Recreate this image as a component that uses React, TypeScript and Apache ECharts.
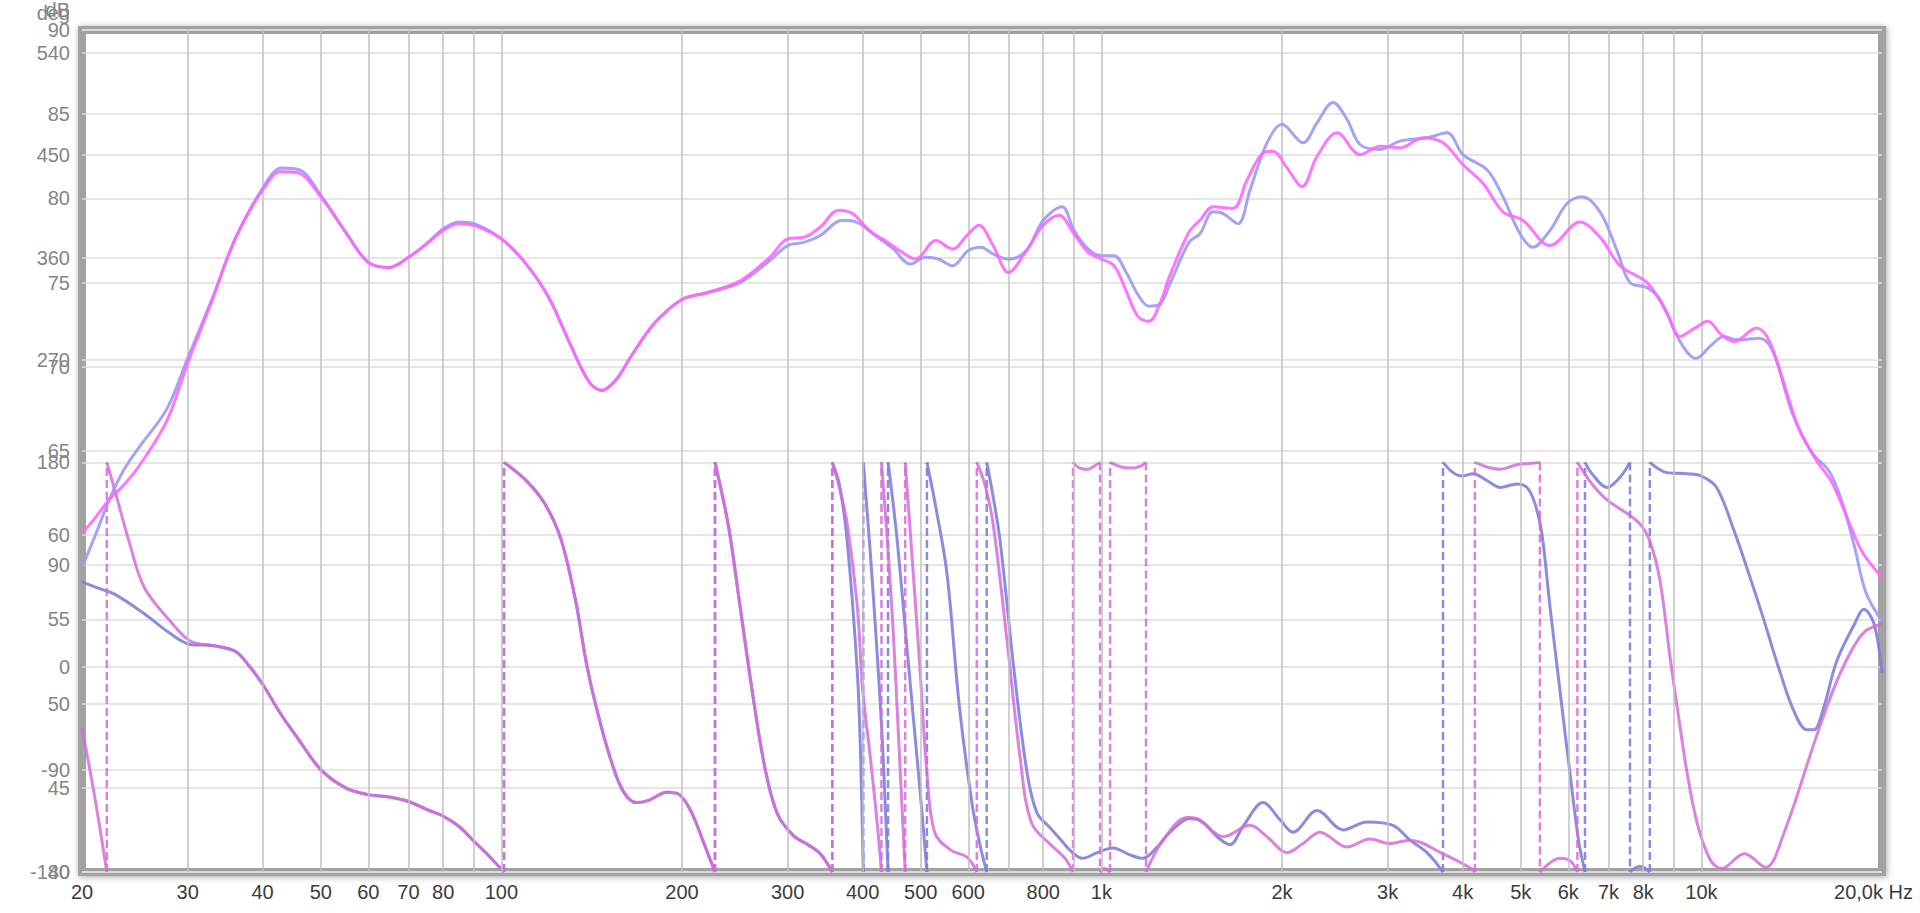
import React, { useEffect, useRef } from "react";
import * as echarts from "echarts";

type Pt = [number, number];

// ---------- axes ----------
const X_LABEL_VALUES = [20, 30, 40, 50, 60, 70, 80, 100, 200, 300, 400, 500, 600, 800, 1000, 2000, 3000, 4000, 5000, 6000, 7000, 8000, 10000, 20000];
const X_GRID_VALUES = [30, 40, 50, 60, 70, 80, 90, 100, 200, 300, 400, 500, 600, 700, 800, 900, 1000, 2000, 3000, 4000, 5000, 6000, 7000, 8000, 9000, 10000];
const DB_MIN = 40;
const DB_MAX = 90;
const DB_STEP = 5;
const DEG_MIN = -180;
const DEG_MAX = 560;
const DEG_STEP = 90;

// ---------- SPL (dB) ----------
const BLUE_SPL: Pt[] = [
  [20, 58.1], [21, 59.9], [22.2, 62.1], [23.5, 63.9], [25, 65.3], [27.7, 67.5], [30, 70.5], [33, 74.1], [36, 77.6],
  [40, 80.6], [43, 81.8], [46, 81.7], [50, 80.2], [55, 78.0], [60, 76.2], [65, 75.9], [70, 76.5], [75, 77.3],
  [80, 78.2], [85, 78.6], [90, 78.5], [100, 77.6], [110, 76.1], [120, 74.1], [130, 71.4], [140, 69.1], [147, 68.6],
  [155, 69.2], [165, 70.7], [180, 72.6], [200, 74.0], [220, 74.4], [250, 75.0], [280, 76.3], [300, 77.2], [320, 77.4],
  [340, 77.8], [370, 78.7], [390, 78.6], [420, 77.8], [450, 77.0], [480, 76.1], [510, 76.5], [535, 76.4], [565, 76.0],
  [600, 76.9], [630, 77.1], [660, 76.7], [700, 76.4], [750, 76.9], [800, 78.7], [860, 79.5], [900, 78.1], [950, 77.0],
  [1000, 76.6], [1050, 76.6], [1100, 75.6], [1150, 74.3], [1200, 73.6], [1250, 73.7], [1300, 74.9], [1400, 77.4],
  [1460, 77.9], [1535, 79.2], [1595, 79.1], [1689, 78.5], [1769, 80.5], [1888, 83.3], [2000, 84.4], [2168, 83.3],
  [2288, 84.5], [2433, 85.7], [2566, 84.7], [2698, 83.2], [2913, 82.9], [3146, 83.4], [3490, 83.6], [3768, 83.9],
  [4005, 82.6], [4393, 81.7], [4670, 80.1], [4985, 77.9], [5238, 77.1], [5594, 78.1], [5971, 79.7], [6325, 80.1],
  [6777, 79.2], [7234, 76.9], [7604, 75.0], [8117, 74.7], [8532, 74.0], [9212, 71.5], [9790, 70.5], [10400, 71.3],
  [10900, 71.8], [11470, 71.6], [12500, 71.7], [13160, 70.9], [14190, 67.2], [15290, 64.9], [16330, 63.8],
  [17150, 62.0], [18000, 59.3], [18800, 56.6], [20000, 54.9],
];

const MAGENTA_SPL: Pt[] = [
  [20, 60.1], [21, 61.0], [22.2, 62.1], [23.5, 63.0], [25, 64.2], [27.7, 66.8], [30, 70.2], [33, 74.0], [36, 77.6],
  [40, 80.5], [43, 81.6], [46, 81.5], [50, 80.1], [55, 78.0], [60, 76.2], [65, 75.9], [70, 76.5], [75, 77.3],
  [80, 78.1], [85, 78.5], [90, 78.4], [100, 77.6], [110, 76.1], [120, 74.1], [130, 71.4], [140, 69.1], [147, 68.6],
  [155, 69.2], [165, 70.7], [180, 72.6], [200, 74.0], [220, 74.4], [250, 75.1], [280, 76.5], [300, 77.6], [320, 77.7],
  [340, 78.3], [365, 79.3], [385, 79.1], [410, 78.1], [440, 77.4], [470, 76.7], [490, 76.4], [530, 77.5], [565, 77.0],
  [600, 77.9], [625, 78.4], [660, 77.2], [700, 75.6], [750, 76.9], [800, 78.4], [850, 79.0], [900, 77.9], [950, 76.8],
  [1000, 76.4], [1050, 76.0], [1100, 74.5], [1150, 73.0], [1200, 72.7], [1250, 73.7], [1300, 75.4], [1400, 78.0],
  [1460, 78.7], [1535, 79.5], [1657, 79.4], [1749, 81.1], [1860, 82.7], [1932, 82.8], [2039, 81.8], [2160, 80.7],
  [2288, 82.5], [2471, 83.9], [2698, 82.6], [2913, 83.1], [3146, 83.0], [3436, 83.6], [3710, 83.3], [4005, 82.0],
  [4325, 80.9], [4670, 79.2], [5040, 78.7], [5594, 77.2], [6276, 78.6], [6777, 77.7], [7318, 76.0], [8117, 75.0],
  [8764, 73.2], [9212, 71.8], [9750, 72.3], [10250, 72.7], [10800, 71.9], [11340, 71.5], [12350, 72.3], [12990, 71.5],
  [13840, 68.6], [14550, 66.3], [15510, 64.5], [16520, 63.1], [17610, 60.8], [18540, 59.0], [20000, 57.5],
];

// ---------- phase (deg), wrapped; each segment runs between two wraps ----------
const PHASE_COMMON_33_101: Pt[] = [
  [33, 19], [36, 14], [38, 1], [40, -15], [43, -42], [46, -64], [50, -90], [55, -106], [60, -112], [65, -114],
  [70, -118], [75, -125], [80, -131], [85, -140], [90, -153], [95, -165], [101, -180],
];
const PHASE_COMMON_101_227: Pt[] = [
  [101, 180], [110, 164], [118, 144], [125.6, 113], [133, 58], [139, 0], [146, -48], [153, -85], [160, -110],
  [168, -119], [176, -117], [189, -110], [198, -112], [207.6, -128], [217.6, -155], [227, -180],
];
const PHASE_COMMON_227_356: Pt[] = [
  [227, 180], [239, 124], [250.6, 49], [262.7, -26], [275.3, -90], [288.5, -129], [306.7, -148], [324.5, -156],
  [340, -164], [356, -180],
];

const BLUE_PHASE_SEGMENTS: Pt[][] = [
  [[20, 75], [21.4, 69], [22.7, 64], [25.4, 47], [28, 30], [30.3, 20], ...PHASE_COMMON_33_101],
  PHASE_COMMON_101_227,
  PHASE_COMMON_227_356,
  [[356, 180], [366, 160], [377, 111], [392, -5], [397, -80], [401, -180]],
  [[401, 180], [412, 100], [422, 20], [431, -60], [437, -130], [441, -180]],
  [[441, 180], [455, 120], [470, 40], [485, -40], [499, -110], [512, -180]],
  [[512, 180], [530, 140], [553, 82], [580, -35], [610, -123], [630, -160], [644, -180]],
  [[644, 180], [660, 150], [678, 111], [716, -5], [752, -93], [781, -128], [821, -141], [860, -153], [887, -161],
   [930, -168], [984, -163], [1046, -159], [1116, -165], [1173, -168], [1239, -158], [1302, -145], [1405, -133],
   [1473, -136], [1559, -149], [1638, -156], [1722, -140], [1860, -119], [1985, -134], [2086, -145], [2288, -126],
   [2528, -143], [2771, -136], [3062, -139], [3269, -152], [3490, -163], [3710, -180]],
  [[3710, 180], [3855, 171], [3990, 168], [4162, 170], [4393, 164], [4617, 158], [4929, 161], [5121, 158],
   [5279, 144], [5420, 118], [5594, 53], [5810, -20], [6039, -93], [6240, -152], [6398, -180]],
  [[6398, 180], [6572, 170], [6963, 158], [7318, 167], [7604, 180]],
  [[7604, -180], [7897, -175], [8205, -180]],
  [[8205, 180], [8764, 171], [9467, 170], [10000, 168], [10600, 158], [11300, 122], [12000, 82], [12700, 42],
   [13500, -3], [14300, -40], [15000, -55], [15400, -55], [16000, -35], [16800, 5], [18000, 38], [18650, 51],
   [19400, 38], [20000, -5]],
];

const MAGENTA_PHASE_SEGMENTS: Pt[][] = [
  [[20, -53], [21, -114], [22, -180]],
  [[22, 180], [22.7, 155], [24, 109], [25.4, 70], [28, 41], [30.3, 23], ...PHASE_COMMON_33_101],
  PHASE_COMMON_101_227,
  PHASE_COMMON_227_356,
  [[356, 180], [365, 160], [377, 126], [392, 53], [400, -20], [412, -79], [423, -137], [430, -180]],
  [[430, 180], [440, 110], [450, 30], [458, -50], [465, -120], [471, -180]],
  [[471, 180], [485, 88], [499, -5], [512, -93], [528, -146], [562, -161], [597, -167], [620, -180]],
  [[620, 180], [640, 160], [660, 126], [696, 24], [732, -79], [765, -137], [831, -158], [870, -168], [897, -180]],
  [[897, 180], [920, 175], [950, 174], [975, 177], [995, 180]],
  [[995, -180], [1012, -177], [1034, -180]],
  [[1034, 180], [1080, 176], [1130, 175], [1165, 177], [1187, 180]],
  [[1187, -180], [1267, -152], [1389, -132], [1443, -133], [1598, -149], [1769, -139], [1888, -149], [2039, -163],
   [2168, -155], [2313, -145], [2566, -158], [2803, -151], [3024, -155], [3269, -152], [3710, -164], [4109, -176],
   [4193, -180]],
  [[4193, 180], [4393, 176], [4617, 174], [4929, 178], [5180, 179], [5381, 180]],
  [[5381, -180], [5594, -172], [5810, -168], [6039, -170], [6214, -180]],
  [[6214, 180], [6572, 161], [6963, 147], [7524, 135], [7897, 126], [8205, 111], [8532, 76], [8866, 9],
   [9113, -35], [9467, -93], [9840, -137], [10340, -169], [10800, -177], [11800, -164], [12800, -176],
   [13700, -147], [15500, -63], [16500, -23], [17600, 10], [18700, 31], [20000, 38]],
];

// ---------- colours ----------
const BLUE_SPL_COLOR = "#9a9af2";
const MAGENTA_SPL_COLOR = "#ff66ff";
const BLUE_PHASE_COLOR = "#8080d8";
const MAGENTA_PHASE_COLOR = "#d46cd8";
const FONT = "'Liberation Sans', Arial, sans-serif";

function solidData(segs: Pt[][]) {
  const out: any[] = [];
  segs.forEach((s, i) => {
    if (i > 0) out.push([s[0][0], "-"]);
    s.forEach((p) => out.push(p));
  });
  return out;
}

function wrapData(segs: Pt[][]) {
  const out: any[] = [];
  for (let i = 1; i < segs.length; i++) {
    const a = segs[i - 1][segs[i - 1].length - 1];
    const b = segs[i][0];
    out.push([a[0], a[1]], [b[0], b[1]], [b[0], "-"]);
  }
  return out;
}

function fmtHz(v: number) {
  const r = Math.round(v);
  if (r === 20000) return "{last|20,0k Hz}";
  if (r >= 1000) return `${r / 1000}k`;
  return `${r}`;
}

export default function App() {
  const ref = useRef<HTMLDivElement>(null);

  useEffect(() => {
    const chart = echarts.init(ref.current!, undefined, { renderer: "svg" });
    const yLabel = { color: "#858585", fontSize: 20, margin: 12, fontFamily: FONT };
    const ySplit = { show: true, lineStyle: { color: "#dcdcdc", width: 1.5 } };
    const nameStyle = {
      color: "#858585", fontSize: 20, fontFamily: FONT, align: "right" as const,
      verticalAlign: "middle" as const, padding: [0, 12, 0, 0],
    };
    const option: any = {
      animation: false,
      backgroundColor: "#ffffff",
      grid: {
        left: 82, right: 38, top: 30, bottom: 41, show: true, backgroundColor: "#ffffff",
        borderColor: "#a2a2a2", borderWidth: 8, shadowColor: "rgba(0,0,0,0.35)", shadowBlur: 6,
        shadowOffsetX: 1, shadowOffsetY: 1,
      },
      xAxis: {
        type: "log", logBase: 10, min: 20, max: 20000,
        axisLine: { show: false },
        axisTick: { show: false, customValues: X_LABEL_VALUES },
        splitLine: { show: false },
        axisLabel: {
          customValues: X_LABEL_VALUES, formatter: fmtHz, color: "#3c3c3c", fontSize: 20, margin: 10,
          fontFamily: FONT, showMinLabel: true, showMaxLabel: true, hideOverlap: false,
          rich: { last: { color: "#3c3c3c", fontSize: 20, fontFamily: FONT, padding: [0, 17, 0, 0] } },
        },
      },
      yAxis: [
        {
          type: "value", min: DB_MIN, max: DB_MAX, interval: DB_STEP, position: "left",
          name: "dB", nameLocation: "end", nameGap: 17, nameTextStyle: nameStyle,
          axisLine: { show: false }, axisTick: { show: false }, axisLabel: yLabel, splitLine: ySplit,
        },
        {
          type: "value", min: DEG_MIN, max: DEG_MAX, interval: DEG_STEP, position: "left", offset: 0,
          name: "deg", nameLocation: "end", nameGap: 17, nameTextStyle: nameStyle,
          axisLine: { show: false }, axisTick: { show: false },
          axisLabel: { ...yLabel, showMaxLabel: false }, splitLine: ySplit,
        },
      ],
      series: [
        {
          type: "line", name: "grid", xAxisIndex: 0, yAxisIndex: 0, data: [], silent: true, z: 1,
          markLine: {
            silent: true, symbol: ["none", "none"], label: { show: false }, animation: false,
            lineStyle: { color: "#c0c0c0", width: 1.5, type: "solid" },
            data: X_GRID_VALUES.map((v) => ({ xAxis: v })),
          },
        },
        {
          type: "line", name: "Blue phase", yAxisIndex: 1, data: solidData(BLUE_PHASE_SEGMENTS), smooth: 0.35,
          showSymbol: false, connectNulls: false, z: 3,
          lineStyle: { color: BLUE_PHASE_COLOR, width: 3, opacity: 0.9 },
        },
        {
          type: "line", name: "Blue phase wraps", yAxisIndex: 1, data: wrapData(BLUE_PHASE_SEGMENTS),
          showSymbol: false, connectNulls: false, z: 3,
          lineStyle: { color: BLUE_PHASE_COLOR, width: 2.5, type: [8, 4], opacity: 0.9 },
        },
        {
          type: "line", name: "Magenta phase", yAxisIndex: 1, data: solidData(MAGENTA_PHASE_SEGMENTS), smooth: 0.35,
          showSymbol: false, connectNulls: false, z: 4,
          lineStyle: { color: MAGENTA_PHASE_COLOR, width: 3, opacity: 0.85 },
        },
        {
          type: "line", name: "Magenta phase wraps", yAxisIndex: 1, data: wrapData(MAGENTA_PHASE_SEGMENTS),
          showSymbol: false, connectNulls: false, z: 4,
          lineStyle: { color: MAGENTA_PHASE_COLOR, width: 2.5, type: [8, 4], opacity: 0.85 },
        },
        {
          type: "line", name: "Blue SPL", yAxisIndex: 0, data: BLUE_SPL, smooth: 0.35, showSymbol: false, z: 5,
          lineStyle: { color: BLUE_SPL_COLOR, width: 3, opacity: 0.9 },
        },
        {
          type: "line", name: "Magenta SPL", yAxisIndex: 0, data: MAGENTA_SPL, smooth: 0.35, showSymbol: false, z: 6,
          lineStyle: { color: MAGENTA_SPL_COLOR, width: 3, opacity: 0.9 },
        },
      ],
    };
    chart.setOption(option);
    return () => chart.dispose();
  }, []);

  return (
    <div
      ref={ref}
      style={{ position: "fixed", left: 0, top: 0, width: 1920, height: 913, background: "#ffffff" }}
    />
  );
}
